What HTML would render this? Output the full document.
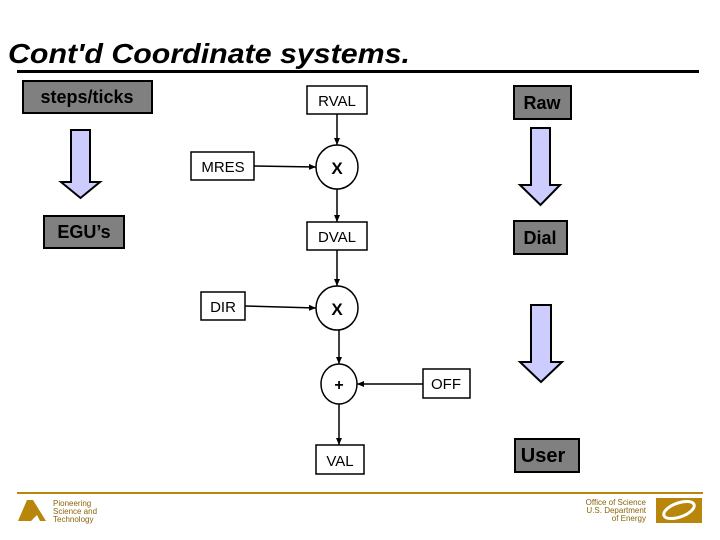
<!DOCTYPE html>
<html><head><meta charset="utf-8"><style>
html,body{margin:0;padding:0;background:#fff;}
svg{display:block;font-family:"Liberation Sans",Arial,sans-serif;}
</style></head><body>
<svg width="720" height="540" viewBox="0 0 720 540">
<defs><marker id="a" markerWidth="8" markerHeight="8" refX="7" refY="4" orient="auto" markerUnits="userSpaceOnUse"><path d="M0,1 L7,4 L0,7 Z" fill="#000"/></marker></defs>
<text x="8" y="63" font-size="28" font-weight="bold" font-style="italic" textLength="402" lengthAdjust="spacingAndGlyphs">Cont'd  Coordinate systems.</text>
<rect x="17" y="70" width="682" height="3" fill="#000"/>
<g stroke="#000" stroke-width="2" fill="#808080">
<rect x="23" y="81" width="129" height="32"/>
<rect x="44" y="216" width="80" height="32"/>
<rect x="514" y="86" width="57" height="33"/>
<rect x="514" y="221" width="53" height="33"/>
<rect x="515" y="439" width="64" height="33"/>
</g>
<g font-weight="bold" font-size="18" text-anchor="middle">
<text x="87" y="103">steps/ticks</text>
<text x="84" y="238">EGU’s</text>
<text x="542" y="109">Raw</text>
<text x="540" y="244">Dial</text>
<text x="543" y="462" font-size="20">User</text>
</g>
<g fill="#ccccff" stroke="#000" stroke-width="2">
<path d="M71,130 H90 V182 H100 L80.5,198 L61,182 H71 Z"/>
<path d="M531,128 H550 V185 H560 L540.5,205 L520,185 H531 Z"/>
<path d="M531,305 H551 V362 H562 L541,382 L520,362 H531 Z"/>
</g>
<g stroke="#000" stroke-width="1.5" fill="#fff">
<rect x="307" y="86" width="60" height="28"/>
<rect x="191" y="152" width="63" height="28"/>
<rect x="307" y="222" width="60" height="28"/>
<rect x="201" y="292" width="44" height="28"/>
<rect x="423" y="369" width="47" height="29"/>
<rect x="316" y="445" width="48" height="29"/>
<ellipse cx="337" cy="167" rx="21" ry="22"/>
<ellipse cx="337" cy="308" rx="21" ry="22"/>
<ellipse cx="339" cy="384" rx="18" ry="20"/>
</g>
<g stroke="#000" stroke-width="1.5" fill="none" marker-end="url(#a)">
<line x1="337" y1="114" x2="337" y2="145"/>
<line x1="254" y1="166" x2="316" y2="167"/>
<line x1="337" y1="189" x2="337" y2="222"/>
<line x1="337" y1="250" x2="337" y2="286"/>
<line x1="245" y1="306" x2="316" y2="308"/>
<line x1="339" y1="330" x2="339" y2="364"/>
<line x1="423" y1="384" x2="357" y2="384"/>
<line x1="339" y1="404" x2="339" y2="445"/>
</g>
<g font-size="15" text-anchor="middle">
<text x="337" y="106">RVAL</text>
<text x="223" y="172">MRES</text>
<text x="337" y="242">DVAL</text>
<text x="223" y="312">DIR</text>
<text x="446" y="389">OFF</text>
<text x="340" y="466">VAL</text>
<text x="337" y="174" font-size="17" font-weight="bold">X</text>
<text x="337" y="315" font-size="17" font-weight="bold">X</text>
<text x="339" y="390" font-size="16" font-weight="bold">+</text>
</g>
<rect x="17" y="492" width="686" height="2" fill="#b8860b"/>
<path d="M27,500 L33,500 L46,521 L40,521 L37,515 L31,521 L18,521 Z" fill="#b8860b"/>
<g font-size="8" fill="#8b6508">
<text x="53" y="506">Pioneering</text>
<text x="53" y="514">Science and</text>
<text x="53" y="522">Technology</text>
<text x="646" y="505" text-anchor="end">Office of Science</text>
<text x="646" y="513" text-anchor="end">U.S. Department</text>
<text x="646" y="521" text-anchor="end">of Energy</text>
</g>
<rect x="656" y="498" width="46" height="25" fill="#b8860b"/>
<ellipse cx="679" cy="510" rx="16" ry="7" fill="none" stroke="#fff" stroke-width="3" transform="rotate(-20 679 510)"/>
</svg>
</body></html>
